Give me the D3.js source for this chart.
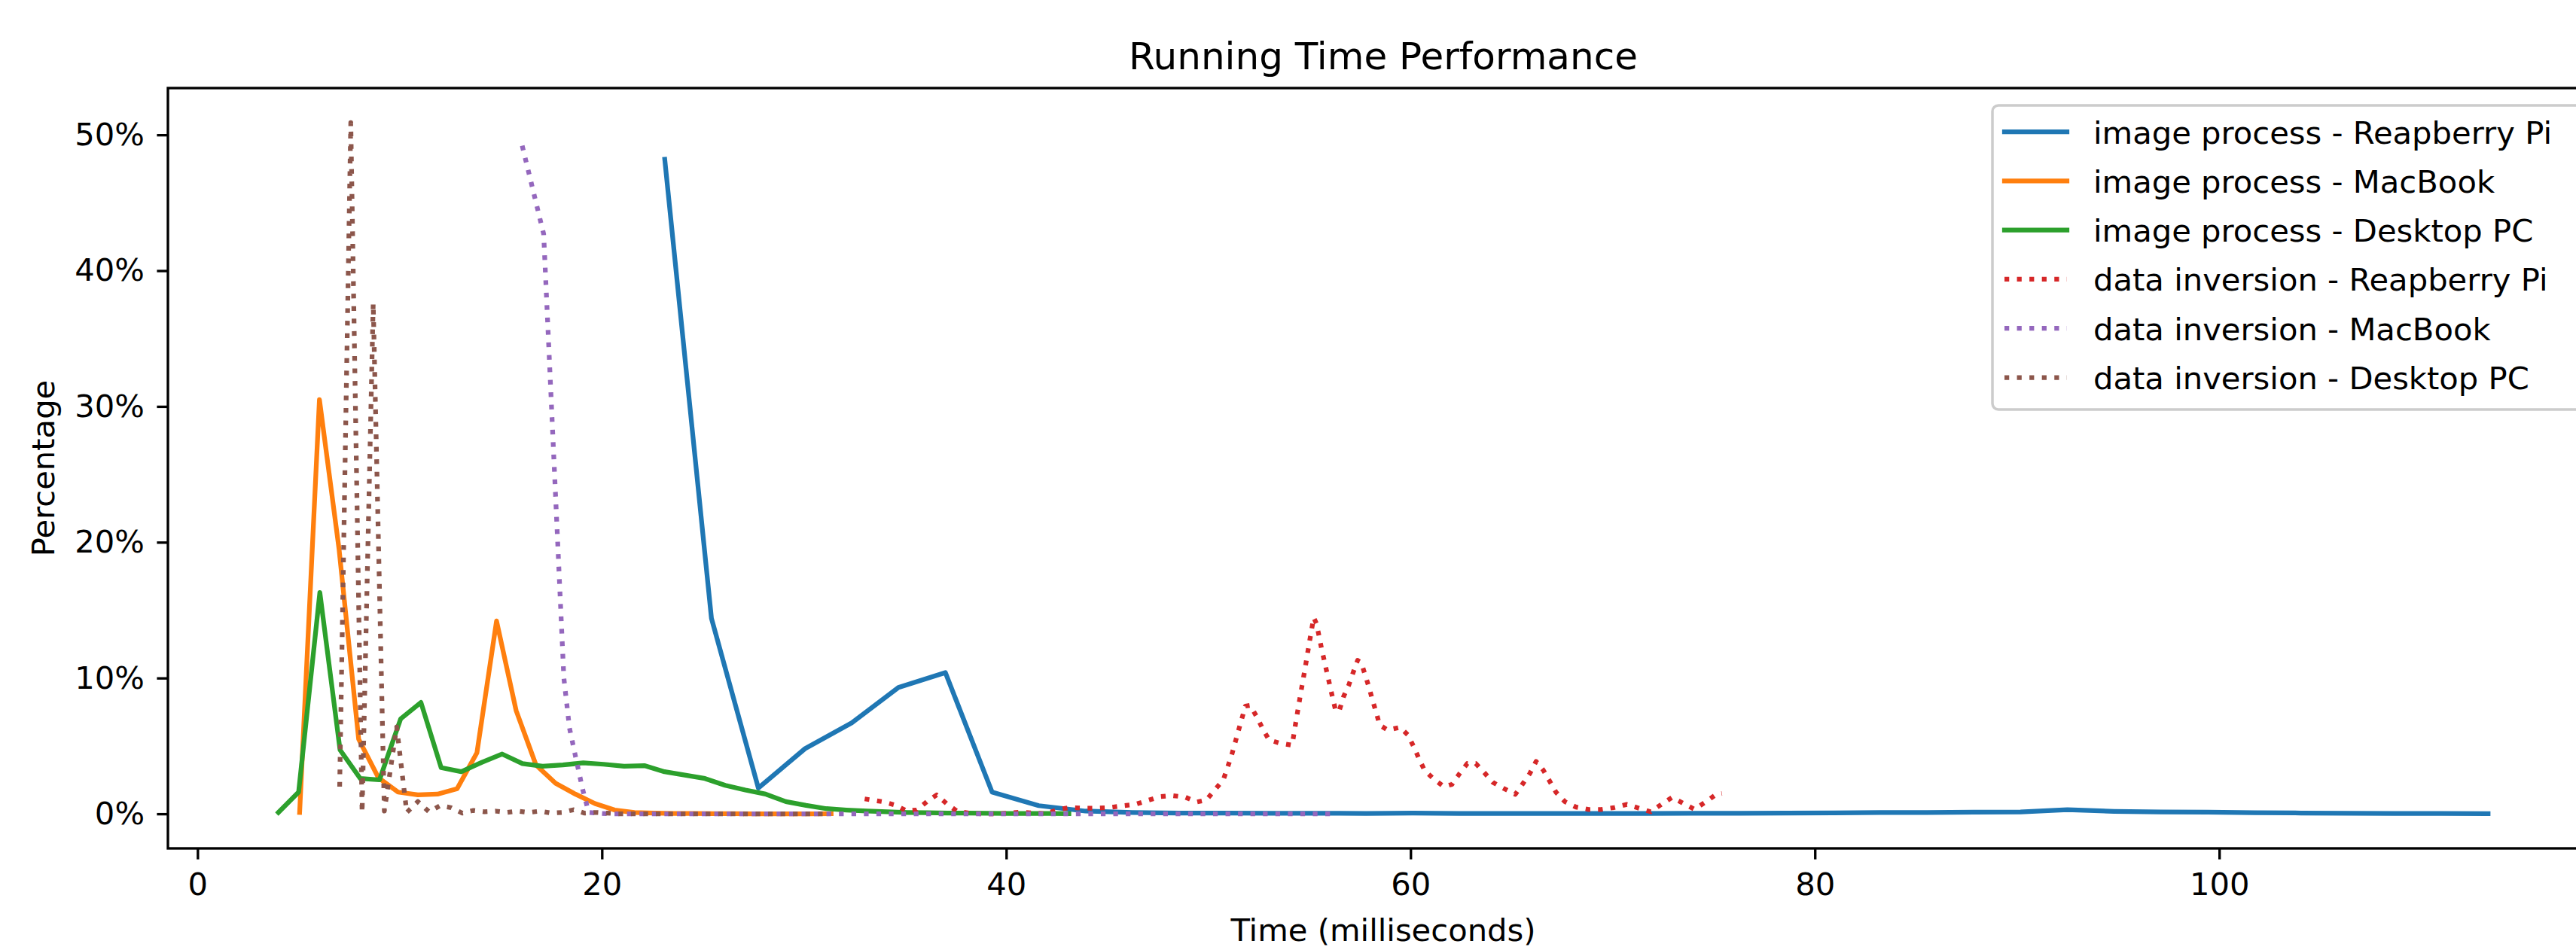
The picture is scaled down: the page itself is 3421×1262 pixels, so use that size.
<!DOCTYPE html>
<html>
<head>
<meta charset="utf-8">
<script src="https://cdn.jsdelivr.net/npm/d3@7"></script>
<style>
  html, body { margin: 0; padding: 0; background: #ffffff; }
  svg { display: block; }
  text { font-family: "DejaVu Sans", sans-serif; fill: #000; }
</style>
</head>
<body>
<svg id="chart" width="3421" height="1262"></svg>
<script>
// ---------------- DATA ----------------
const chartTitle = "Running Time Performance";
const xLabel = "Time (milliseconds)";
const yLabel = "Percentage";
const xTicks = [0, 20, 40, 60, 80, 100];
const yTicks = [0, 10, 20, 30, 40, 50];

const seriesNames = [
  "image process - Reapberry Pi",
  "image process - MacBook",
  "image process - Desktop PC",
  "data inversion - Reapberry Pi",
  "data inversion - MacBook",
  "data inversion - Desktop PC"
];

// [time (ms), percentage]
const imageProcessPi = [
  [23.11,48.2],[25.42,14.4],[27.74,1.9],[30.05,4.8],[32.36,6.7],[34.67,9.3],[36.99,10.4],
  [39.30,1.6],[41.61,0.6],[43.92,0.2],[46.24,0.1],[48.55,0.06],[50.86,0.05],[53.17,0.04],
  [55.49,0.04],[57.80,0.03],[60.11,0.05],[62.42,0.03],[64.74,0.02],[67.05,0.02],[69.36,0.02],
  [71.67,0.03],[73.99,0.04],[76.30,0.04],[78.61,0.05],[80.92,0.07],[83.24,0.09],[85.55,0.1],
  [87.86,0.12],[90.17,0.14],[92.49,0.3],[94.80,0.18],[97.11,0.13],[99.42,0.12],[101.74,0.08],
  [104.05,0.06],[106.36,0.04],[108.67,0.03],[110.99,0.02],[113.30,0.01]
];

const imageProcessMac = [
  [5.05,0.1],[6.03,30.5],[7.00,19.5],[7.97,5.5],[8.95,2.65],[9.92,1.6],[10.90,1.4],
  [11.87,1.45],[12.84,1.85],[13.82,4.5],[14.79,14.2],[15.76,7.6],[16.74,3.6],[17.71,2.25],
  [18.69,1.45],[19.66,0.75],[20.63,0.28],[21.61,0.1],[22.58,0.05],[23.55,0.02],[24.53,0.02],
  [25.50,0.01],[26.47,0.01],[27.45,0.0],[28.42,0.0],[29.39,0.0],[30.37,0.0],[31.34,0.01]
];

const imageProcessDesktop = [
  [4.0,0.1],[5.0,1.6],[6.05,16.3],[7.05,4.7],[8.05,2.6],[9.0,2.5],[10.05,7.0],[11.05,8.2],
  [12.05,3.4],[13.05,3.1],[14.07,3.8],[15.07,4.4],[16.07,3.7],[17.07,3.5],[18.07,3.6],
  [19.08,3.75],[20.08,3.65],[21.1,3.5],[22.1,3.55],[23.1,3.1],[24.1,2.85],[25.1,2.6],
  [26.1,2.1],[27.1,1.75],[28.1,1.45],[29.1,0.9],[30.1,0.62],[31.1,0.38],[32.1,0.28],
  [33.1,0.2],[34.1,0.15],[35.1,0.1],[36.1,0.08],[37.1,0.06],[38.1,0.05],[39.1,0.04],
  [40.1,0.03],[41.1,0.03],[42.1,0.02],[43.1,0.01]
];

const dataInversionPi = [
  [33.0,1.1],[33.9,0.89],[34.5,0.65],[35.07,0.22],[35.57,0.28],[36.07,0.89],[36.56,1.39],
  [37.06,0.74],[37.57,0.19],[38.19,0.04],[38.82,0.0],[39.45,0.0],[40.1,0.04],[40.72,0.13],
  [41.35,0.06],[41.95,0.0],[42.58,0.32],[43.18,0.46],[43.85,0.41],[44.47,0.41],[45.11,0.46],
  [45.74,0.59],[46.37,0.69],[46.97,0.97],[47.6,1.26],[48.23,1.34],[48.83,1.24],[49.43,0.87],
  [49.9,1.02],[50.34,1.8],[50.74,2.5],[51.14,4.27],[51.49,6.13],[51.83,7.93],[52.07,7.99],
  [52.39,7.15],[52.69,6.26],[53.0,5.44],[53.55,5.2],[54.14,5.05],[54.35,6.96],[54.56,8.82],
  [54.78,10.68],[54.99,12.57],[55.21,14.45],[55.35,14.0],[55.6,12.16],[55.88,10.3],
  [56.16,8.45],[56.31,7.52],[56.49,7.67],[56.69,8.64],[56.95,9.5],[57.16,10.4],[57.38,11.3],
  [57.56,11.14],[57.76,10.2],[57.95,9.3],[58.12,8.36],[58.31,7.43],[58.47,6.54],[58.87,6.17],
  [59.48,6.37],[59.87,5.81],[60.15,4.96],[60.41,4.09],[60.69,3.21],[61.15,2.56],[61.65,2.0],
  [62.05,2.17],[62.43,2.97],[62.81,3.71],[63.22,3.71],[63.65,3.03],[64.07,2.32],[64.62,1.86],
  [65.18,1.43],[65.54,2.19],[65.9,2.97],[66.21,3.86],[66.57,3.21],[66.89,2.38],[67.2,1.58],
  [67.64,0.89],[68.18,0.5],[68.81,0.32],[69.42,0.32],[70.07,0.46],[70.7,0.69],[71.31,0.41],
  [71.88,0.15],[72.42,0.71],[72.94,1.21],[73.53,0.74],[74.05,0.33],[74.59,0.87],[75.12,1.43],
  [75.4,1.5]
];

const dataInversionMac = [
  [16.06,49.2],[17.12,42.7],[18.12,10.0],[18.4,6.3],[18.7,4.2],[19.05,1.8],[19.35,0.1],
  [20.3,0],[21.4,0],[22.4,0],[23.5,0],[24.5,0],[25.6,0],[26.6,0],[27.7,0],[28.7,0],[29.8,0],
  [30.8,0],[31.9,0],[32.9,0],[34.0,0],[35.0,0],[36.1,0],[37.1,0],[38.2,0],[39.2,0],[40.3,0],
  [41.3,0],[42.4,0],[43.4,0],[44.5,0],[45.5,0],[46.6,0],[47.6,0],[48.7,0],[49.7,0],[50.8,0],
  [51.8,0],[52.9,0],[53.9,0],[55.0,0],[56.2,0]
];

const dataInversionDesktop = [
  [7.03,2.0],[7.58,50.9],[8.14,0.1],[8.69,37.6],[9.24,0.2],[9.85,6.4],[10.35,0.1],[10.9,0.9],
  [11.45,0.15],[12.0,0.6],[12.55,0.45],[13.1,0.05],[13.65,0.25],[14.2,0.15],[14.75,0.2],
  [15.3,0.1],[15.85,0.2],[16.4,0.1],[16.95,0.2],[17.5,0.05],[18.05,0.1],[18.6,0.3],
  [19.15,0.05],[19.7,0.1],[20.25,0.05],[20.8,0.0],[21.35,0.0],[21.9,0.0],[22.45,0.0],
  [23.0,0.0],[24.1,0.0],[25.2,0.0],[26.3,0.0],[27.4,0.0],[28.5,0.0],[29.6,0.0],[30.7,0.0],
  [31.3,0.0]
];

const seriesData = [
  imageProcessPi, imageProcessMac, imageProcessDesktop,
  dataInversionPi, dataInversionMac, dataInversionDesktop
];

// ---------------- STYLE ----------------
const colors = ["#1f77b4", "#ff7f0e", "#2ca02c", "#d62728", "#9467bd", "#8c564b"];
const dotted = [false, false, false, true, true, true];
const LW = 6.25;            // 1.5pt @ 300dpi
const DASH = "6.25 10.31";  // matplotlib ':' pattern
const FS = 41.7;            // 10pt
const TITLE_FS = 50;        // 12pt
const SPINE = 3.33;         // 0.8pt

const plot = { left: 223, right: 3451, top: 117, bottom: 1127 };

// ---------------- SCALES ----------------
const allPts = seriesData.flat();
const xExt = d3.extent(allPts, d => d[0]);
const yExt = d3.extent(allPts, d => d[1]);
const xPad = (xExt[1] - xExt[0]) * 0.05;
const yPad = (yExt[1] - yExt[0]) * 0.05;

const x = d3.scaleLinear().domain([xExt[0] - xPad, xExt[1] + xPad]).range([plot.left, plot.right]);
const y = d3.scaleLinear().domain([yExt[0] - yPad, yExt[1] + yPad]).range([plot.bottom, plot.top]);

const svg = d3.select("#chart");
svg.append("rect").attr("width", 3421).attr("height", 1262).attr("fill", "#fff");

// clip
svg.append("defs").append("clipPath").attr("id", "plotclip")
  .append("rect").attr("x", plot.left).attr("y", plot.top)
  .attr("width", plot.right - plot.left).attr("height", plot.bottom - plot.top);

// ---------------- LINES ----------------
const line = d3.line().x(d => x(d[0])).y(d => y(d[1]));
const gLines = svg.append("g").attr("clip-path", "url(#plotclip)");
seriesData.forEach((s, i) => {
  gLines.append("path")
    .attr("d", line(s))
    .attr("fill", "none")
    .attr("stroke", colors[i])
    .attr("stroke-width", LW)
    .attr("stroke-linejoin", "round")
    .attr("stroke-linecap", dotted[i] ? "butt" : "square")
    .attr("stroke-dasharray", dotted[i] ? DASH : null);
});

// ---------------- AXES ----------------
const xAxis = d3.axisBottom(x).tickValues(xTicks).tickSize(14.6).tickPadding(17.8)
  .tickFormat(d3.format("d"));
const gx = svg.append("g").attr("transform", `translate(0,${plot.bottom})`).call(xAxis);
gx.select(".domain").remove();
gx.selectAll(".tick line").attr("stroke", "#000").attr("stroke-width", SPINE);
gx.selectAll(".tick text").attr("font-size", FS).attr("font-family", "DejaVu Sans").attr("fill", "#000");

const yAxis = d3.axisLeft(y).tickValues(yTicks).tickSize(14.6).tickPadding(16.4)
  .tickFormat(d => d + "%");
const gy = svg.append("g").attr("transform", `translate(${plot.left},0)`).call(yAxis);
gy.select(".domain").remove();
gy.selectAll(".tick line").attr("stroke", "#000").attr("stroke-width", SPINE);
gy.selectAll(".tick text").attr("font-size", FS).attr("font-family", "DejaVu Sans").attr("fill", "#000");

// spines
svg.append("rect")
  .attr("x", plot.left).attr("y", plot.top)
  .attr("width", plot.right - plot.left).attr("height", plot.bottom - plot.top)
  .attr("fill", "none").attr("stroke", "#000").attr("stroke-width", SPINE)
  .attr("stroke-linejoin", "miter");

// ---------------- TEXT ----------------
const cx = (plot.left + plot.right) / 2;
svg.append("text").attr("x", cx).attr("y", plot.top - 25)
  .attr("text-anchor", "middle").attr("font-size", TITLE_FS).text(chartTitle);

svg.append("text").attr("x", cx).attr("y", 1250)
  .attr("text-anchor", "middle").attr("font-size", FS).text(xLabel);

svg.append("text")
  .attr("transform", `translate(72,${(plot.top + plot.bottom) / 2}) rotate(-90)`)
  .attr("text-anchor", "middle").attr("font-size", FS).text(yLabel);

// ---------------- LEGEND ----------------
const leg = { left: 2646, top: 140, right: 3430, bottom: 544, rowY0: 175, rowStep: 65.3,
              hx0: 2662, hx1: 2745, tx: 2780 };
const gLeg = svg.append("g");
gLeg.append("rect")
  .attr("x", leg.left).attr("y", leg.top)
  .attr("width", leg.right - leg.left).attr("height", leg.bottom - leg.top)
  .attr("rx", 8).attr("ry", 8)
  .attr("fill", "#fff").attr("fill-opacity", 0.8)
  .attr("stroke", "#cccccc").attr("stroke-width", 3.5);

seriesNames.forEach((name, i) => {
  const ry = leg.rowY0 + i * leg.rowStep;
  gLeg.append("line")
    .attr("x1", leg.hx0).attr("x2", leg.hx1).attr("y1", ry).attr("y2", ry)
    .attr("stroke", colors[i]).attr("stroke-width", LW)
    .attr("stroke-linecap", dotted[i] ? "butt" : "square")
    .attr("stroke-dasharray", dotted[i] ? DASH : null);
  gLeg.append("text").attr("x", leg.tx).attr("y", ry + 15.5)
    .attr("font-size", FS).text(name);
});
</script>
</body>
</html>
